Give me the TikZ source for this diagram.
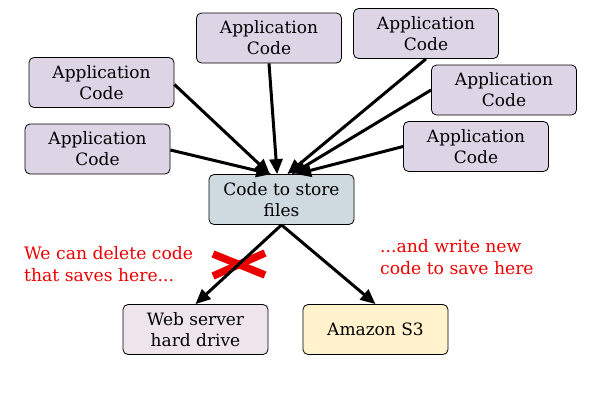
\documentclass[tikz,border=0pt]{standalone}
\usepackage{fontspec}
\setmainfont{DejaVu Serif}
\usetikzlibrary{arrows.meta,calc}
\definecolor{appfill}{RGB}{221,212,230}
\definecolor{codefill}{RGB}{207,217,224}
\definecolor{webfill}{RGB}{237,228,236}
\definecolor{s3fill}{RGB}{255,242,205}
\definecolor{notered}{RGB}{235,0,0}
\tikzset{
  x=1pt,y=-1pt,
  boxnode/.style={draw=black,line width=0.8pt,rounded corners=5pt,minimum width=145pt,minimum height=50pt,
    align=center,font=\fontsize{17}{21}\selectfont,inner sep=2pt},
  appbox/.style={boxnode,fill=appfill},
  feed/.style={line width=3pt,-{Triangle[length=15pt,width=13pt]}},
  note/.style={text=notered,align=left,font=\fontsize{17.2}{22}\selectfont,inner sep=0pt}
}
\begin{document}
\begin{tikzpicture}
\useasboundingbox (0,0) rectangle (600,400);
\node[appbox] (a1) at (101.5,82.5) {Application\\Code};
\node[appbox] (a2) at (97.5,149) {Application\\Code};
\node[appbox] (a3) at (269,38) {Application\\Code};
\node[appbox] (a4) at (426,33.5) {Application\\Code};
\node[appbox] (a5) at (504,90) {Application\\Code};
\node[appbox] (a6) at (476,146.5) {Application\\Code};
\node[boxnode,fill=codefill] (code) at (281.5,199.5) {Code to store\\files};
\node[boxnode,fill=webfill] (web) at (195.5,329.5) {Web server\\hard drive};
\node[boxnode,fill=s3fill] (s3) at (375.5,329.5) {Amazon S3};
\coordinate (xc) at (239,264);
\draw[notered,line width=7.5pt] ($(xc)+(-26,-10)$) coordinate (xa) -- ($(xc)+(26,11)$) coordinate (xb);
\draw[notered,line width=7.5pt] ($(xc)+(26,-11)$) coordinate (xd) -- ($(xc)+(-26,12)$) coordinate (xe);
\coordinate (t1) at ($(code.north west)!0.42!(code.north east)$);
\coordinate (t2) at ($(code.north west)!0.43!(code.north east)$);
\coordinate (t3) at ($(code.north west)!0.47!(code.north east)$);
\coordinate (t4) at ($(code.north west)!0.54!(code.north east)$);
\coordinate (t5) at ($(code.north west)!0.57!(code.north east)$);
\coordinate (t6) at ($(code.north west)!0.60!(code.north east)$);
\draw[feed] ($(a1.east)+(0,2)$) -- (t1);
\draw[feed] ($(a2.east)+(0,1)$) -- (t2);
\draw[feed] (a3.south) -- (t3);
\draw[feed] (a4.south) -- (t4);
\draw[feed] (a5.west) -- (t5);
\draw[feed] (a6.west) -- (t6);
\draw[feed] (code.south) -- (web.north);
\draw[feed] (code.south) -- (s3.north);
\node[note,anchor=west] (del) at (24,264) {We can delete code\\that saves here...};
\node[note,anchor=west] (add) at (380,257) {...and write new\\code to save here};
\end{tikzpicture}
\end{document}
